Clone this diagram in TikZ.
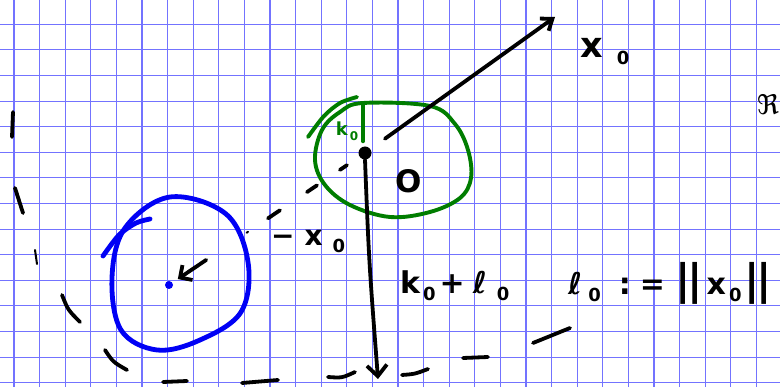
\documentclass[tikz,border=0pt]{standalone}
\usepackage{fontspec}
\setmainfont{DejaVu Sans}
\usetikzlibrary{arrows.meta,calc}
\definecolor{gridblue}{RGB}{115,115,255}
\definecolor{penblue}{RGB}{0,0,245}
\definecolor{pengreen}{RGB}{0,125,0}
\newcommand\lowo[1]{\raisebox{-7pt}{\fontsize{18}{18}\selectfont #1}}
\newcommand\tallbar{{\fontsize{42}{42}\selectfont|}}
\begin{document}
\begin{tikzpicture}[x=1pt,y=-1pt,
  gridline/.style={draw=gridblue, line width=1.1pt},
  pen/.style={line width=3.8pt, line cap=round, line join=round, draw=black},
  bluepen/.style={line width=4.8pt, line cap=round, line join=round, draw=penblue},
  greenpen/.style={line width=3.9pt, line cap=round, line join=round, draw=pengreen},
  hand/.style={inner sep=0pt, anchor=base west, font=\fontsize{30}{30}\selectfont\bfseries},
  barb/.style={-{Straight Barb[length=11pt,width=20pt]}}
]
\useasboundingbox (0,0) rectangle (780,387);
\fill[white] (0,0) rectangle (780,387);
% grid
\foreach \i in {0,...,30} \draw[gridline] ({14+25.6*\i},0) -- ({14+25.6*\i},387);
\foreach \j in {-1,...,14} \draw[gridline] (0,{24.3+25.6*\j}) -- (780,{24.3+25.6*\j});

% points
\node[circle, fill=black, minimum size=13pt, inner sep=0pt] (P) at (365,153) {};
\node[circle, fill=penblue, minimum size=8pt, inner sep=0pt] (Q) at (169,285) {};
\coordinate (D) at (378,379);
\coordinate (X) at (555,17);

% green circle
\draw[greenpen] plot[smooth cycle, tension=0.6] coordinates {(363,103) (430,106) (455,124) (468,150) (471,178) (460,198) (430,212) (390,217) (350,205) (325,185) (315,160) (322,130) (340,112)};
\draw[greenpen] plot[smooth] coordinates {(308,137) (324,116) (340,103) (357,97)};
\draw[greenpen] (P.north) ++(-2,-5) coordinate (Ptop) -- (363,103) coordinate (Gtop);
\node[inner sep=0pt, text=pengreen, font=\fontsize{18}{18}\selectfont\bfseries] (k0) at (347,131) {k\hspace{2pt}\raisebox{-5pt}{\fontsize{12}{12}\selectfont 0}};

% blue circle
\draw[bluepen] plot[smooth cycle, tension=0.6] coordinates {(170,197) (226,214) (248,262) (241,312) (200,340) (157,350) (121,330) (112,278) (125,228)};
\draw[bluepen] plot[smooth] coordinates {(103,256) (119,235) (136,223) (150,219)};

% vector x0
\draw[pen, -{Straight Barb[length=10pt,width=15pt]}] ($(P)!0.105!(X)$) -- (X);
% vector down to k0+l0
\draw[pen, barb] (P.south) .. controls (369,262) .. (D);
% dashed -x0
\draw[pen] ($(P)!0.092!(Q)$) -- ($(P)!0.128!(Q)$);
\draw[pen] ($(P)!0.245!(Q)$) -- ($(P)!0.296!(Q)$);
\draw[pen] ($(P)!0.434!(Q)$) -- ($(P)!0.495!(Q)$);
\draw[pen, line width=2pt] ($(P)!0.597!(Q)$) -- ($(P)!0.604!(Q)$);
\draw[pen, -{Straight Barb[length=9pt,width=18pt]}] ($(P)!0.81!(Q)$) -- ($(P)!0.955!(Q)$);

% big dashed arc
\draw[pen] (13,112) -- (12,137);
\draw[pen] (15,188) -- (23,213);
\draw[pen, line width=2pt] (35,250) -- (37,264);
\draw[pen] (62,295) .. controls (68,310) .. (80,322);
\draw[pen] (105,350) .. controls (113,362) .. (127,370);
\draw[pen] (163,382) -- (187,381);
\draw[pen] (242,383) -- (278,380);
\draw[pen] (328,377) .. controls (342,378) .. (355,372);
\draw[pen] (402,375) .. controls (415,374) .. (428,369);
\draw[pen] (463,358) -- (488,357);
\draw[pen] (533,343) -- (570,328);

% labels
\node[hand, font=\fontsize{35}{35}\selectfont\bfseries] (lx) at (580,58) {x\hspace{14pt}\lowo{0}};
\node[hand, font=\fontsize{28}{28}\selectfont\bfseries] (lmx) at (271,246) {−\hspace{10pt}x\hspace{10pt}\lowo{0}};
\node[hand, anchor=base, font=\fontsize{31}{31}\selectfont\bfseries] (lO) at (409,193) {O};
\node[hand] (lkl) at (400,294) {k\hspace{3pt}\lowo{0}\hspace{4pt}+\hspace{8pt}ℓ\hspace{10pt}\lowo{0}};
\node[hand] (ll) at (568,295) {ℓ\hspace{6pt}\lowo{0}\hspace{18pt}:\hspace{9pt}=\hspace{10pt}\tallbar\hspace{-3pt}\tallbar\hspace{4pt}x\hspace{3pt}\lowo{0}\hspace{3pt}\tallbar\hspace{-3pt}\tallbar};
\node[inner sep=0pt, anchor=west, font=\fontsize{27}{27}\selectfont] (lR) at (757,105) {ℜ};
\end{tikzpicture}
\end{document}
